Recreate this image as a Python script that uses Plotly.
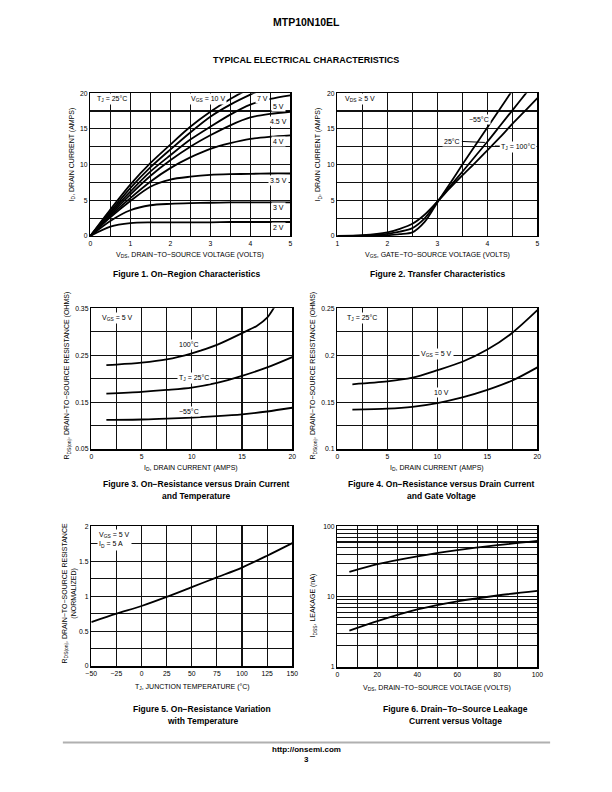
import plotly.graph_objects as go

# ---------------- data ----------------
# Figure 1: On-region characteristics
f1_vds = [0, 0.5, 1, 1.5, 2, 2.5, 3, 3.5, 4, 4.5, 5]
f1_id_10v = [0, 3.7, 7.2, 10.2, 12.8, 15.3, 17.4, 19.2, 20.7]
f1_id_7v = [0, 3.4, 6.7, 9.6, 12.1, 14.5, 16.7, 18.4, 19.8, 21.0]
f1_id_5v = [0, 3.2, 6.2, 9.0, 11.3, 13.5, 15.3, 17.0, 18.4, 19.2, 19.7]
f1_id_45v = [0, 3.0, 5.8, 8.4, 10.6, 12.5, 14.1, 15.5, 16.6, 17.1, 17.4]
f1_id_4v = [0, 2.8, 5.3, 7.6, 9.5, 11.0, 12.2, 13.0, 13.6, 13.9, 14.1]
f1_id_35v = [0, 2.6, 4.9, 6.9, 7.9, 8.3, 8.55, 8.65, 8.7, 8.75, 8.75]
f1_id_3v = [0, 2.1, 3.6, 4.3, 4.5, 4.6, 4.65, 4.7, 4.7, 4.7, 4.7]
f1_id_2v = [0, 1.3, 1.8, 1.9, 1.9, 1.9, 1.9, 1.95, 1.95, 1.95, 1.95]
f1_labels = ["7 V", "5 V", "4.5 V", "4 V", "3.5 V", "3 V", "2 V"]
f1_label_y = [19.2, 18.2, 16.0, 13.2, 7.7, 4.0, 1.15]
f1_label_x = [4.3, 4.7, 4.7, 4.7, 4.7, 4.7, 4.7]

# Figure 2: Transfer characteristics
f2_vgs = [1, 1.5, 2, 2.25, 2.5, 2.75, 3, 3.25, 3.5, 3.75, 4, 4.25, 4.5, 4.75, 5]
f2_id_100c = [0, 0.1, 0.5, 1.0, 1.7, 3.0, 4.8, 6.7, 8.5, 10.2, 12.0, 13.8, 15.7, 17.5, 19.3]
f2_id_25c = [0, 0.05, 0.28, 0.6, 1.1, 2.5, 4.8, 6.9, 9.0, 11.1, 13.2, 15.4, 17.6, 19.8, 22.0]
f2_id_m55c = [0, 0.0, 0.1, 0.25, 0.5, 2.0, 4.7, 7.3, 10.0, 12.6, 15.2, 17.8, 20.4, 23.0, 25.6]

# Figure 3: On-resistance vs drain current and temperature
f3_id_hot = [1.5, 2.5, 5, 7.5, 10, 12.5, 15, 16.5, 17.5, 18.2]
f3_r_100c = [0.229, 0.230, 0.234, 0.241, 0.254, 0.272, 0.297, 0.313, 0.330, 0.352]
f3_id = [1.5, 5, 7.5, 10, 12.5, 15, 17.5, 20]
f3_r_25c = [0.168, 0.172, 0.176, 0.181, 0.191, 0.206, 0.224, 0.246]
f3_r_m55c = [0.112, 0.113, 0.115, 0.117, 0.120, 0.124, 0.130, 0.138]

# Figure 4: On-resistance vs drain current and gate voltage
f4_id = [1.5, 5, 7.5, 10, 12.5, 15, 17.5, 20]
f4_r_5v = [0.169, 0.172, 0.176, 0.184, 0.193, 0.206, 0.224, 0.248]
f4_r_10v = [0.142, 0.143, 0.145, 0.149, 0.155, 0.163, 0.173, 0.187]

# Figure 5: On-resistance variation with temperature
f5_tj = [-50, -25, 0, 25, 50, 75, 100, 125, 150]
f5_r_norm = [0.63, 0.75, 0.86, 0.99, 1.13, 1.27, 1.41, 1.58, 1.76]

# Figure 6: Drain-to-source leakage vs voltage
f6_vds = [6, 20, 40, 60, 80, 100]
f6_idss_125c = [22.5, 29, 37.5, 46, 54, 62]
f6_idss_100c = [3.3, 4.5, 6.6, 8.6, 10.4, 12.1]

# ---------------- styling ----------------
NARROW = "Liberation Sans Narrow, Arial Narrow, Liberation Sans, Arial, sans-serif"
BOLD = "Liberation Sans, Arial, sans-serif"
W, H = 612, 792


def px(x):
    return x / W


def py(y):
    return 1 - y / H


LINE = dict(color="black", width=1.8, shape="spline", smoothing=0.8)

fig = go.Figure()


def add(xs, ys, n):
    fig.add_trace(go.Scatter(x=xs, y=ys, mode="lines", line=LINE,
                             xaxis="x" + ("" if n == 1 else str(n)),
                             yaxis="y" + ("" if n == 1 else str(n)),
                             showlegend=False, hoverinfo="skip"))


# Fig 1
for ys in [f1_id_10v, f1_id_7v, f1_id_5v, f1_id_45v, f1_id_4v, f1_id_35v, f1_id_3v, f1_id_2v]:
    add(f1_vds[:len(ys)], ys, 1)
# Fig 2
for ys in [f2_id_100c, f2_id_25c, f2_id_m55c]:
    add(f2_vgs, ys, 2)
# Fig 3
add(f3_id_hot, f3_r_100c, 3)
add(f3_id, f3_r_25c, 3)
add(f3_id, f3_r_m55c, 3)
# Fig 4
add(f4_id, f4_r_5v, 4)
add(f4_id, f4_r_10v, 4)
# Fig 5
add(f5_tj, f5_r_norm, 5)
# Fig 6
add(f6_vds, f6_idss_125c, 6)
add(f6_vds, f6_idss_100c, 6)

GRID = "#111111"


def axis(domain, rng, dtick, minor_dtick, anchor, tick0=None, minor_tick0=None, typ="linear"):
    d = dict(domain=domain, range=rng, dtick=dtick, type=typ,
             showgrid=True, gridcolor=GRID, gridwidth=1.1,
             minor=dict(dtick=minor_dtick, showgrid=True, gridcolor=GRID, gridwidth=1.1, ticks=""),
             showline=True, linecolor="black", linewidth=1.5, mirror=True,
             ticks="", zeroline=False, anchor=anchor, fixedrange=True,
             tickfont=dict(size=6.8, family=NARROW, color="black"))
    if tick0 is not None:
        d["tick0"] = tick0
    if minor_tick0 is not None:
        d["minor"]["tick0"] = minor_tick0
    return d


L1, R1 = 86, 290
L2, R2 = 338, 542
layout_axes = dict(
    xaxis=axis([px(L1), px(R1)], [0, 5], 1, 0.5, "y", 0, 0),
    yaxis=axis([py(234), py(90)], [0, 20], 5, 2.5, "x", 0, 0),
    xaxis2=axis([px(L2), px(R2)], [1, 5], 1, 0.5, "y2", 1, 1),
    yaxis2=axis([py(234), py(90)], [0, 20], 5, 2.5, "x2", 0, 0),
    xaxis3=axis([px(87), px(292)], [0, 20], 5, 2.5, "y3", 0, 0),
    yaxis3=axis([py(449), py(307)], [0.05, 0.35], 0.1, 0.05, "x3", 0.05, 0.05),
    xaxis4=axis([px(L2), px(R2)], [0, 20], 5, 2.5, "y4", 0, 0),
    yaxis4=axis([py(449), py(307)], [0.1, 0.25], 0.05, 0.025, "x4", 0.1, 0.1),
    xaxis5=axis([px(87), px(292)], [-50, 150], 25, 25, "y5", -50, -50),
    yaxis5=axis([py(668), py(527)], [0, 2], 0.5, 0.25, "x5", 0, 0),
    xaxis6=axis([px(L2), px(R2)], [0, 100], 20, 10, "y6", 0, 0),
    yaxis6=axis([py(669), py(527)], [0, 2], 1, "D1", "x6", typ="log"),
)

ann = []


def lab(text, x, y, n, size=7, bg="white", xanchor="center", align="center"):
    s = "" if n == 1 else str(n)
    ann.append(dict(text=text, x=x, y=y, xref="x" + s, yref="y" + s, showarrow=False,
                    font=dict(size=size, family=NARROW, color="black"),
                    bgcolor=bg, borderpad=1, xanchor=xanchor, align=align))


def ptext(text, x, y, size=7, bold=False, angle=0):
    if bold:
        text = "<b>" + text.replace("<br>", "</b><br><b>") + "</b>"
    ann.append(dict(text=text, x=px(x), y=py(y), xref="paper", yref="paper", showarrow=False,
                    font=dict(size=size, family=(BOLD if bold else NARROW), color="black"),
                    textangle=angle, xanchor="center", yanchor="middle"))


# Figure 1 labels
lab("T<sub>J</sub> = 25°C", 0.55, 19.2, 1)
lab("V<sub>GS</sub> = 10 V", 2.95, 19.2, 1)
for t, xx, yy in zip(f1_labels, f1_label_x, f1_label_y):
    lab(t, xx, yy, 1)

# Figure 2 labels
lab("V<sub>DS</sub> ≥ 5 V", 1.45, 19.2, 2)
lab("−55°C", 3.83, 16.3, 2)
ann.append(dict(text="25°C", x=3.95, y=13.1, ax=3.3, ay=13.3, axref="x2", ayref="y2",
                xref="x2", yref="y2", showarrow=True, arrowhead=0, arrowwidth=1, arrowcolor="black",
                font=dict(size=7, family=NARROW, color="black"), bgcolor="white", borderpad=1))
ann.append(dict(text="T<sub>J</sub> = 100°C", x=4.15, y=12.6, ax=4.62, ay=12.5, axref="x2", ayref="y2",
                xref="x2", yref="y2", showarrow=True, arrowhead=0, arrowwidth=1, arrowcolor="black",
                font=dict(size=7, family=NARROW, color="black"), bgcolor="white", borderpad=1))

# Figure 3 labels
lab("V<sub>GS</sub> = 5 V", 2.6, 0.33, 3)
lab("100°C", 9.7, 0.273, 3)
lab("T<sub>J</sub> = 25°C", 10.2, 0.201, 3)
lab("−55°C", 9.7, 0.131, 3)

# Figure 4 labels
lab("T<sub>J</sub> = 25°C", 2.5, 0.24, 4)
lab("V<sub>GS</sub> = 5 V", 9.9, 0.201, 4)
lab("10 V", 10.4, 0.160, 4)

# Figure 5 labels
lab("V<sub>GS</sub> = 5 V<br>I<sub>D</sub> = 5 A", -44, 1.8, 5, xanchor="left", align="left")

# Figure 6 labels
lab("V<sub>GS</sub> = 0 V", 11, 75, 6)
lab("T<sub>J</sub> = 125°C", 50, 58, 6)
lab("100°C", 49, 9.6, 6)

# Axis titles
ptext("V<sub>DS</sub>, DRAIN−TO−SOURCE VOLTAGE (VOLTS)", 188, 253)
ptext("V<sub>GS</sub>, GATE−TO−SOURCE VOLTAGE (VOLTS)", 440, 253)
ptext("I<sub>D</sub>, DRAIN CURRENT (AMPS)", 189, 468)
ptext("I<sub>D</sub>, DRAIN CURRENT (AMPS)", 440, 468)
ptext("T<sub>J</sub>, JUNCTION TEMPERATURE (°C)", 190, 689)
ptext("V<sub>DS</sub>, DRAIN−TO−SOURCE VOLTAGE (VOLTS)", 440, 690)
ptext("I<sub>D</sub>, DRAIN CURRENT (AMPS)", 67, 152, angle=-90)
ptext("I<sub>D</sub>, DRAIN CURRENT (AMPS)", 318, 152, angle=-90)
ptext("R<sub>DS(on)</sub>, DRAIN−TO−SOURCE RESISTANCE (OHMS)", 62, 375, angle=-90)
ptext("R<sub>DS(on)</sub>, DRAIN−TO−SOURCE RESISTANCE (OHMS)", 313, 375, angle=-90)
ptext("R<sub>DS(on)</sub>, DRAIN−TO−SOURCE RESISTANCE<br>(NORMALIZED)", 65, 595, angle=-90)
ptext("I<sub>DSS</sub>, LEAKAGE (nA)", 313, 607, angle=-90)

# Captions
CAP = 8.5
ptext("Figure 1. On−Region Characteristics", 184, 272, CAP, True)
ptext("Figure 2. Transfer Characteristics", 440, 272, CAP, True)
ptext("Figure 3. On−Resistance versus Drain Current", 194, 484, CAP, True)
ptext("and Temperature", 194, 496, CAP, True)
ptext("Figure 4. On−Resistance versus Drain Current", 444, 484, CAP, True)
ptext("and Gate Voltage", 444, 496, CAP, True)
ptext("Figure 5. On−Resistance Variation", 200, 711, CAP, True)
ptext("with Temperature", 200, 723, CAP, True)
ptext("Figure 6. Drain−To−Source Leakage", 458, 711, CAP, True)
ptext("Current versus Voltage", 458, 723, CAP, True)

# Page texts
ptext("MTP10N10EL", 306, 18, 10.5, True)
ptext("TYPICAL ELECTRICAL CHARACTERISTICS", 306, 57, 9, True)
ptext("http://onsemi.com", 306, 752, 8, True)
ptext("3", 306, 762, 8, True)

fig.update_layout(
    width=W, height=H, margin=dict(l=0, r=0, t=0, b=0),
    paper_bgcolor="white", plot_bgcolor="white",
    showlegend=False, annotations=ann, hovermode=False,
    shapes=[dict(type="line", xref="paper", yref="paper", x0=px(58), x1=px(555),
                 y0=py(745), y1=py(745), line=dict(color="#b0b0b0", width=2))],
    **layout_axes,
)

fig.write_html("out.html", config={"displayModeBar": False, "staticPlot": True},
               post_script="document.body.style.margin='0';document.body.style.padding='0';document.body.style.overflow='hidden';")
